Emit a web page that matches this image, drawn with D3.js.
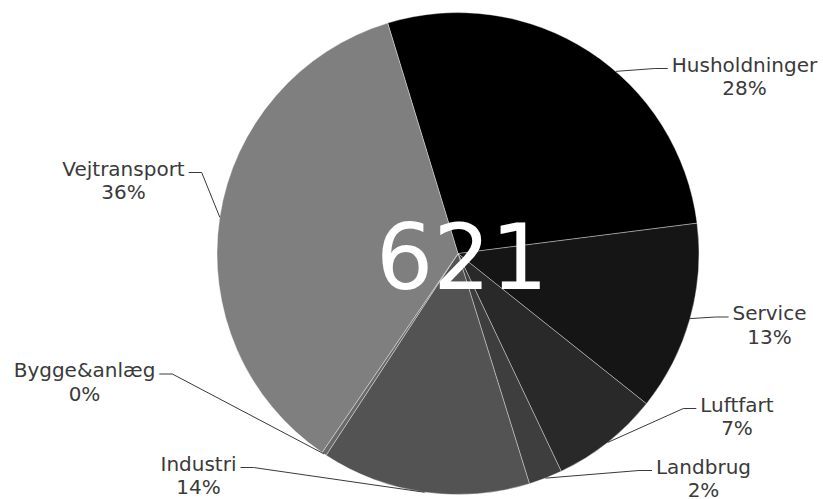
<!DOCTYPE html>
<html>
<head>
<meta charset="utf-8">
<script src="https://cdn.jsdelivr.net/npm/d3@7/dist/d3.min.js"></script>
<style>
  html, body { margin: 0; padding: 0; background: #ffffff; }
  svg { display: block; }
  text { font-family: "DejaVu Sans", Verdana, sans-serif; }
</style>
</head>
<body>
<svg id="chart" width="823" height="499"></svg>
<script>
// Energy use by sector (sum shown in the middle of the pie)
const categories = ["Husholdninger", "Service", "Luftfart", "Landbrug", "Industri", "Bygge&anlæg", "Vejtransport"];
const values = [172, 79, 45, 14, 87, 2, 222];

// Slice shades, darkest first
const shades = ["#000000", "#151515", "#292929", "#3e3e3e", "#535353", "#696969", "#7f7f7f"];

// Label placement: centre x and first-line baseline, plus which side the leader comes from
const labelPos = [
  { x: 744.5, y: 71.5, side: "right" },
  { x: 769.5, y: 320,  side: "right" },
  { x: 737,   y: 411.5, side: "right" },
  { x: 703.5, y: 473.5, side: "right" },
  { x: 198.5, y: 470.5, side: "left" },
  { x: 84.5,  y: 377,  side: "left" },
  { x: 123.5, y: 175.5, side: "left" }
];
// Where along each slice the leader line leaves the rim (0 = start, 1 = end)
const leaderAt = [0.58, 0.5, 0.5, 0.5, 0.5, 0.5, 0.5];

const cx = 458, cy = 253.6, radius = 241;
const startDeg = -16.96;

const svg = d3.select("#chart");
const g = svg.append("g").attr("transform", `translate(${cx},${cy})`);

const total = d3.sum(values);
const pct = d3.format(".0%");

const pie = d3.pie()
  .sort(null)
  .value(d => d.value)
  .startAngle(startDeg * Math.PI / 180)
  .endAngle(startDeg * Math.PI / 180 + 2 * Math.PI);

const data = categories.map((c, i) => ({ name: c, value: values[i], i }));
const arcs = pie(data);

const arc = d3.arc().innerRadius(0).outerRadius(radius);

g.selectAll("path.slice")
  .data(arcs)
  .join("path")
  .attr("class", "slice")
  .attr("d", arc)
  .attr("fill", d => shades[d.index])
  .attr("stroke", "#ffffff")
  .attr("stroke-opacity", 0.45)
  .attr("stroke-width", 0.8)
  .attr("stroke-linejoin", "round");

// Total in the centre
g.append("text")
  .attr("x", 4)
  .attr("y", 35)
  .attr("text-anchor", "middle")
  .attr("font-size", 90)
  .attr("fill", "#ffffff")
  .text(total);

// Labels with leader lines
const labels = svg.append("g");
arcs.forEach((a, i) => {
  const p = labelPos[i];
  const t = labels.append("text")
    .attr("text-anchor", "middle")
    .attr("font-size", 20)
    .attr("fill", "#3a3a3a");
  t.append("tspan").attr("x", p.x).attr("y", p.y).text(a.data.name);
  t.append("tspan").attr("x", p.x).attr("y", p.y + 23.5).text(pct(a.data.value / total));

  const w = t.select("tspan").node().getComputedTextLength();
  const ang = a.startAngle + (a.endAngle - a.startAngle) * leaderAt[i];
  const sx = cx + radius * Math.sin(ang);
  const sy = cy - radius * Math.cos(ang);
  const ly = p.y - 3;
  let ex, bx;
  if (p.side === "right") {
    ex = p.x - w / 2 - 4;
    bx = ex - 13;
  } else {
    ex = p.x + w / 2 + 4;
    bx = ex + 13;
  }
  labels.append("path")
    .attr("d", d3.line()([[sx, sy], [bx, ly], [ex, ly]]))
    .attr("fill", "none")
    .attr("stroke", "#3a3a3a")
    .attr("stroke-width", 1);
});
</script>
</body>
</html>
